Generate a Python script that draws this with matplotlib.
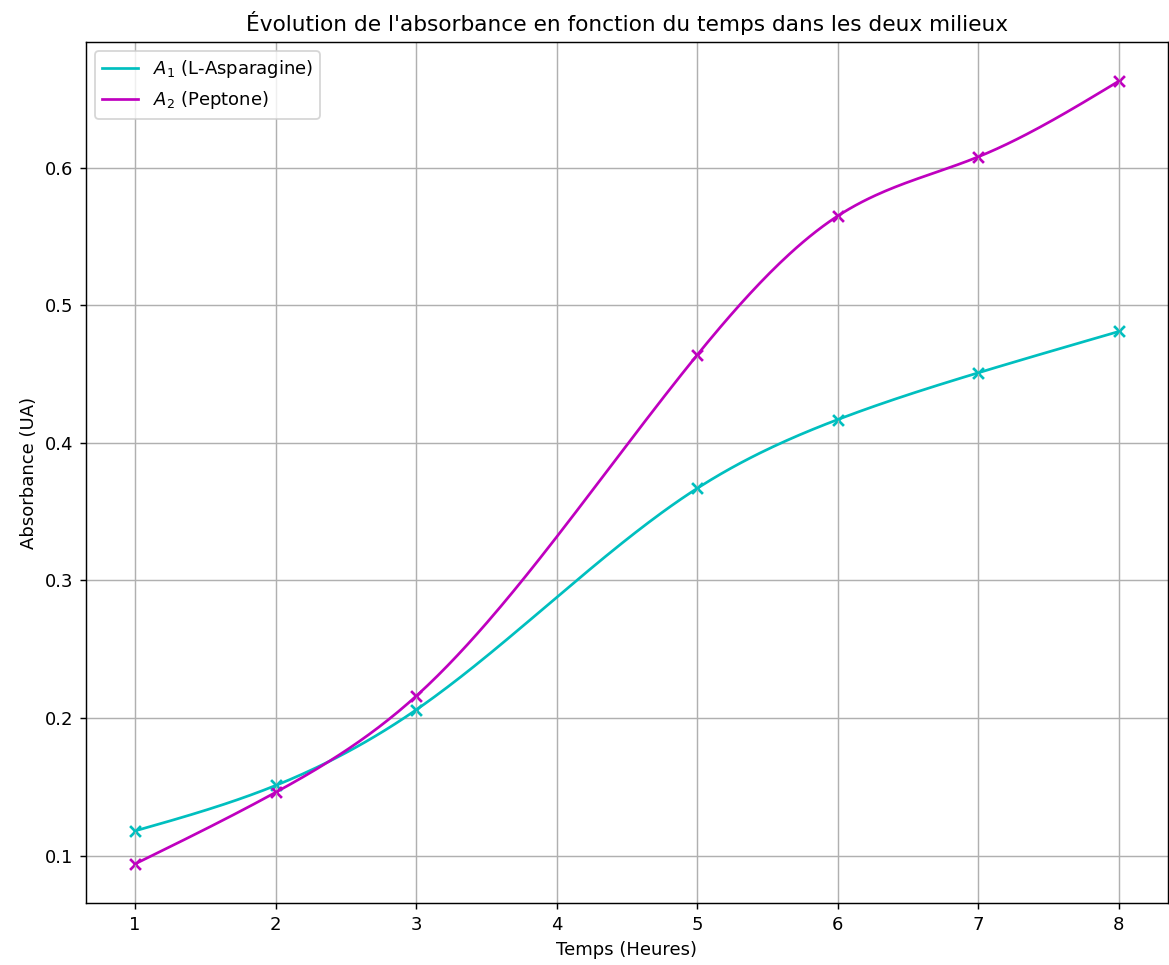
import matplotlib
matplotlib.use("Agg")
import matplotlib.pyplot as plt
import numpy as np

# measured points (hours, absorbance)
temps = [1, 2, 3, 5, 6, 7, 8]
a1_asparagine = [0.118, 0.151, 0.206, 0.367, 0.417, 0.451, 0.481]
a2_peptone = [0.094, 0.146, 0.216, 0.464, 0.565, 0.608, 0.663]


def cubic_spline(x, y, n=300):
    """Natural cubic spline through (x, y), evaluated on a fine grid."""
    x = np.asarray(x, dtype=float)
    y = np.asarray(y, dtype=float)
    k = len(x)
    h = np.diff(x)
    A = np.zeros((k, k))
    b = np.zeros(k)
    # natural ends: zero second derivative
    A[0, 0] = 1.0
    A[-1, -1] = 1.0
    for i in range(1, k - 1):
        A[i, i - 1] = h[i - 1]
        A[i, i] = 2 * (h[i - 1] + h[i])
        A[i, i + 1] = h[i]
        b[i] = 6 * ((y[i + 1] - y[i]) / h[i] - (y[i] - y[i - 1]) / h[i - 1])
    M = np.linalg.solve(A, b)

    xs = np.linspace(x[0], x[-1], n)
    idx = np.clip(np.searchsorted(x, xs) - 1, 0, k - 2)
    hi = h[idx]
    dl = x[idx + 1] - xs
    dr = xs - x[idx]
    ys = (M[idx] * dl**3 / (6 * hi) + M[idx + 1] * dr**3 / (6 * hi)
          + (y[idx] / hi - M[idx] * hi / 6) * dl
          + (y[idx + 1] / hi - M[idx + 1] * hi / 6) * dr)
    return xs, ys


fig = plt.figure(figsize=(1169 / 130, 965 / 130), dpi=130)
ax = fig.add_axes([86 / 1169, 62 / 965, (1168 - 86) / 1169, (903 - 42) / 965])

xs1, ys1 = cubic_spline(temps, a1_asparagine)
xs2, ys2 = cubic_spline(temps, a2_peptone)

ax.plot(xs1, ys1, color="c", label=r"$A_1$ (L-Asparagine)")
ax.scatter(temps, a1_asparagine, color="c", marker="x")
ax.plot(xs2, ys2, color="m", label=r"$A_2$ (Peptone)")
ax.scatter(temps, a2_peptone, color="m", marker="x")

ax.set_title("Évolution de l'absorbance en fonction du temps dans les deux milieux")
ax.set_xlabel("Temps (Heures)")
ax.set_ylabel("Absorbance (UA)")
ax.legend(loc="upper left")
ax.grid(True)

fig.savefig("out.png", dpi=130)
